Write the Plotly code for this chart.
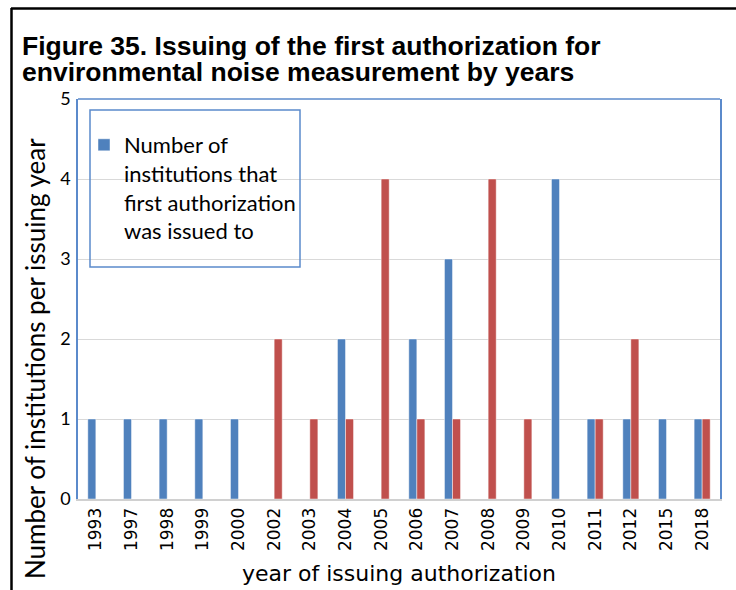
import plotly.graph_objects as go

years = ["1993", "1997", "1998", "1999", "2000", "2002", "2003", "2004", "2005",
         "2006", "2007", "2008", "2009", "2010", "2011", "2012", "2015", "2018"]
first_auth = [1, 1, 1, 1, 1, 0, 0, 2, 0, 2, 3, 0, 0, 4, 1, 1, 1, 1]
second_series = [0, 0, 0, 0, 0, 2, 1, 1, 4, 1, 1, 4, 1, 0, 1, 2, 0, 1]

title_line1 = "Figure 35. Issuing of the first authorization for"
title_line2 = "environmental noise measurement by years"

BLUE = "#4F81BD"
RED = "#C0504D"
FRAME = "#5B8ACB"
TITLE_FONT = "Liberation Sans"
W, H = 736, 590
L, R, T, B = 78, 16, 99, 91
pw, ph = W - L - R, H - T - B

def px_x(x):
    return (x - L) / pw

def px_y(y):
    return (H - B - y) / ph

fig = go.Figure()
fig.add_trace(go.Bar(
    x=years, y=first_auth,
    name="Number of<br>institutions that<br>first authorization<br>was issued to",
    marker=dict(color=BLUE, line=dict(color="rgba(255,255,255,0.45)", width=1)),
))
fig.add_trace(go.Bar(
    x=years, y=second_series, name="Second series", showlegend=False,
    marker=dict(color=RED, line=dict(color="rgba(255,255,255,0.45)", width=1)),
))

fig.update_layout(
    width=W, height=H,
    margin=dict(l=L, r=R, t=T, b=B),
    paper_bgcolor="white", plot_bgcolor="white",
    barmode="group", bargap=0.55, bargroupgap=0,
    title=dict(
        text="<b>" + title_line1 + "</b>",
        x=22 / W, xanchor="left", xref="container",
        y=1 - 55 / H, yanchor="bottom", yref="container",
        font=dict(family=TITLE_FONT, size=26.5, color="black"),
    ),
    legend=dict(
        x=px_x(84), y=px_y(124), xanchor="left", yanchor="top",
        bgcolor="rgba(0,0,0,0)", borderwidth=0,
        font=dict(family="Lato", size=22, color="black"),
        valign="top", itemwidth=30,
    ),
    showlegend=True,
    xaxis=dict(
        type="category", tickangle=-90, automargin=False,
        tickfont=dict(family="DejaVu Sans", size=17, color="black"),
        showline=True, linecolor="#D0D0D0", linewidth=2,
        ticks="", showgrid=False,
        title=dict(text="year of issuing authorization",
                   font=dict(family="DejaVu Sans", size=22, color="black"),
                   standoff=16),
    ),
    yaxis=dict(
        range=[0, 5], dtick=1, tickformat="d", automargin=False,
        tickfont=dict(family="Lato", size=18, color="black"),
        showgrid=True, gridcolor="#D9D9D9", gridwidth=1,
        showline=True, linecolor=FRAME, linewidth=1.5, mirror=True,
        zeroline=False, ticks="", ticklabelstandoff=2,
    ),
    shapes=[
        # legend box
        dict(type="rect", xref="paper", yref="paper",
             x0=px_x(90), x1=px_x(300), y0=px_y(267), y1=px_y(110),
             line=dict(color=FRAME, width=1.5), fillcolor="rgba(0,0,0,0)", layer="above"),
        # top frame of plot area
        dict(type="line", xref="paper", yref="paper", x0=0, x1=1, y0=1, y1=1,
             line=dict(color=FRAME, width=1.5)),
        # outer black page border (top & left)
        dict(type="line", xref="paper", yref="paper",
             x0=px_x(11), x1=px_x(736), y0=px_y(8.5), y1=px_y(8.5),
             line=dict(color="black", width=2.5)),
        dict(type="line", xref="paper", yref="paper",
             x0=px_x(11.5), x1=px_x(11.5), y0=px_y(8), y1=px_y(590),
             line=dict(color="black", width=2.5)),
    ],
    annotations=[
        dict(text="<b>" + title_line2 + "</b>",
             xref="paper", yref="paper", x=px_x(20), y=px_y(89),
             xanchor="left", yanchor="bottom", showarrow=False,
             font=dict(family=TITLE_FONT, size=26.5, color="black")),
        dict(text="Number of institutions per issuing year", textangle=-90,
             xref="paper", yref="paper", x=px_x(35), y=px_y(359),
             xanchor="center", yanchor="middle", showarrow=False,
             font=dict(family="Lato", size=26, color="black")),
    ],
)

fig.write_html("out.html", config={"displayModeBar": False},
               post_script="document.body.style.margin='0px';document.body.style.overflow='hidden';")
